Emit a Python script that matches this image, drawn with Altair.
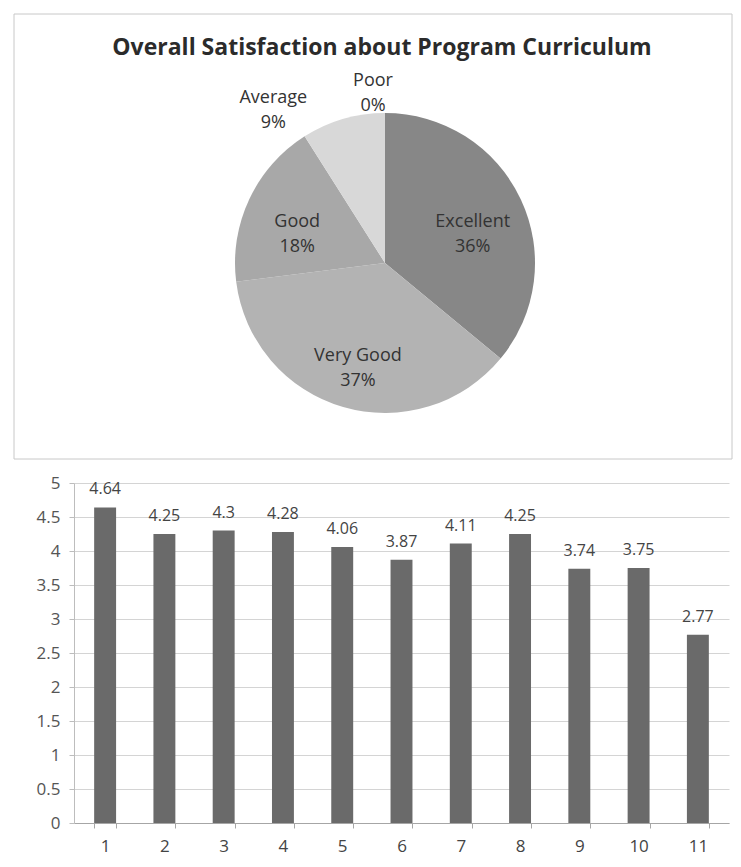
import altair as alt
import pandas as pd

# ---------------- data ----------------
title_text = "Overall Satisfaction about Program Curriculum"
pie_labels = ["Excellent", "Very Good", "Good", "Average", "Poor"]
pie_pct = [36, 37, 18, 9, 0]
pie_colors = ["#878787", "#b3b3b3", "#a8a8a8", "#d8d8d8", "#eeeeee"]

bar_items = ["1", "2", "3", "4", "5", "6", "7", "8", "9", "10", "11"]
bar_values = [4.64, 4.25, 4.3, 4.28, 4.06, 3.87, 4.11, 4.25, 3.74, 3.75, 2.77]
y_ticks = [0, 0.5, 1, 1.5, 2, 2.5, 3, 3.5, 4, 4.5, 5]

FONT = "Open Sans"
TXT = "#333333"

# ---------------- pie ----------------
pie_df = pd.DataFrame({"cat": pie_labels, "pct": pie_pct, "ord": list(range(len(pie_labels)))})

theta_scale = alt.Scale(domain=[0, 100], range=[0, 6.283185307179586])
CX, CY = 311, 249

base = alt.Chart(pie_df).transform_window(
    cum="sum(pct)", sort=[alt.SortField("ord")]
).transform_calculate(
    start="datum.cum - datum.pct",
    mid="datum.cum - datum.pct / 2",
    label="datum.cat + '\\n' + datum.pct + '%'",
)

polar = dict(x=alt.value(CX), y=alt.value(CY))

arcs = base.mark_arc(outerRadius=150).encode(
    theta=alt.Theta("start:Q", scale=theta_scale, stack=None),
    theta2="cum:Q",
    color=alt.Color("cat:N", scale=alt.Scale(domain=pie_labels, range=pie_colors), legend=None),
    **polar,
)

txt_style = dict(lineBreak="\n", fontSize=18, font=FONT, color=TXT, lineHeight=25)

inner_text = base.transform_filter("datum.pct >= 15").mark_text(
    radius=97, **txt_style
).encode(
    theta=alt.Theta("mid:Q", scale=theta_scale, stack=None), text="label:N", **polar
)

avg_text = base.transform_filter("datum.pct > 0 && datum.pct < 15").mark_text(
    radius=178, align="center", dx=-62, dy=6, **txt_style
).encode(
    theta=alt.Theta("mid:Q", scale=theta_scale, stack=None), text="label:N", **polar
)

zero_text = base.transform_filter("datum.pct == 0").mark_text(
    radius=182, align="center", dx=-12, **txt_style
).encode(
    theta=alt.Theta("mid:Q", scale=theta_scale, stack=None), text="label:N", **polar
)

one_row = pd.DataFrame({"t": [title_text]})
title_mark = alt.Chart(one_row).mark_text(
    fontSize=23, fontWeight="bold", font=FONT, color="#2b2b2b"
).encode(text="t:N", x=alt.value(308), y=alt.value(34))

frame = alt.Chart(one_row).mark_rect(
    fill=None, stroke="#c8c8c8", strokeWidth=1
).encode(x=alt.value(-60), x2=alt.value(658), y=alt.value(0), y2=alt.value(445))

pie = alt.layer(frame, arcs, inner_text, avg_text, zero_text, title_mark).properties(
    width=655, height=445, view=alt.ViewBackground(stroke=None)
)

# ---------------- bars ----------------
bar_df = pd.DataFrame({"item": bar_items, "score": bar_values})

bar_base = alt.Chart(bar_df).encode(
    x=alt.X(
        "item:N", sort=bar_items, title=None,
        scale=alt.Scale(paddingInner=0.63, paddingOuter=0.34),
        axis=alt.Axis(labelAngle=0, labelFont=FONT, labelFontSize=17, labelColor="#444444",
                      domainColor="#a6a6a6", tickColor="#a6a6a6", tickBand="extent",
                      tickSize=5, labelPadding=10, grid=False),
    ),
    y=alt.Y(
        "score:Q", title=None, scale=alt.Scale(domain=[0, 5], nice=False),
        axis=alt.Axis(values=y_ticks, format="~g", labelFont=FONT, labelFontSize=17,
                      labelColor="#555555", domainColor="#bdbdbd", tickColor="#bdbdbd",
                      tickSize=5, labelPadding=9, gridColor="#d4d4d4", minExtent=60),
    ),
)

bars = bar_base.mark_bar(color="#6a6a6a")
bar_labels = bar_base.mark_text(
    baseline="bottom", dy=-10, fontSize=16, font=FONT, color="#444444"
).encode(text=alt.Text("score:Q", format="~g"))

bar_chart = alt.layer(bars, bar_labels).properties(
    width=655, height=340, view=alt.ViewBackground(stroke=None)
)

chart = alt.vconcat(pie, bar_chart, spacing=14).properties(
    padding={"left": 5, "top": 5, "right": 0, "bottom": 5},
    background="white",
)

chart.save("out.html", embed_options={"renderer": "svg", "actions": False})
